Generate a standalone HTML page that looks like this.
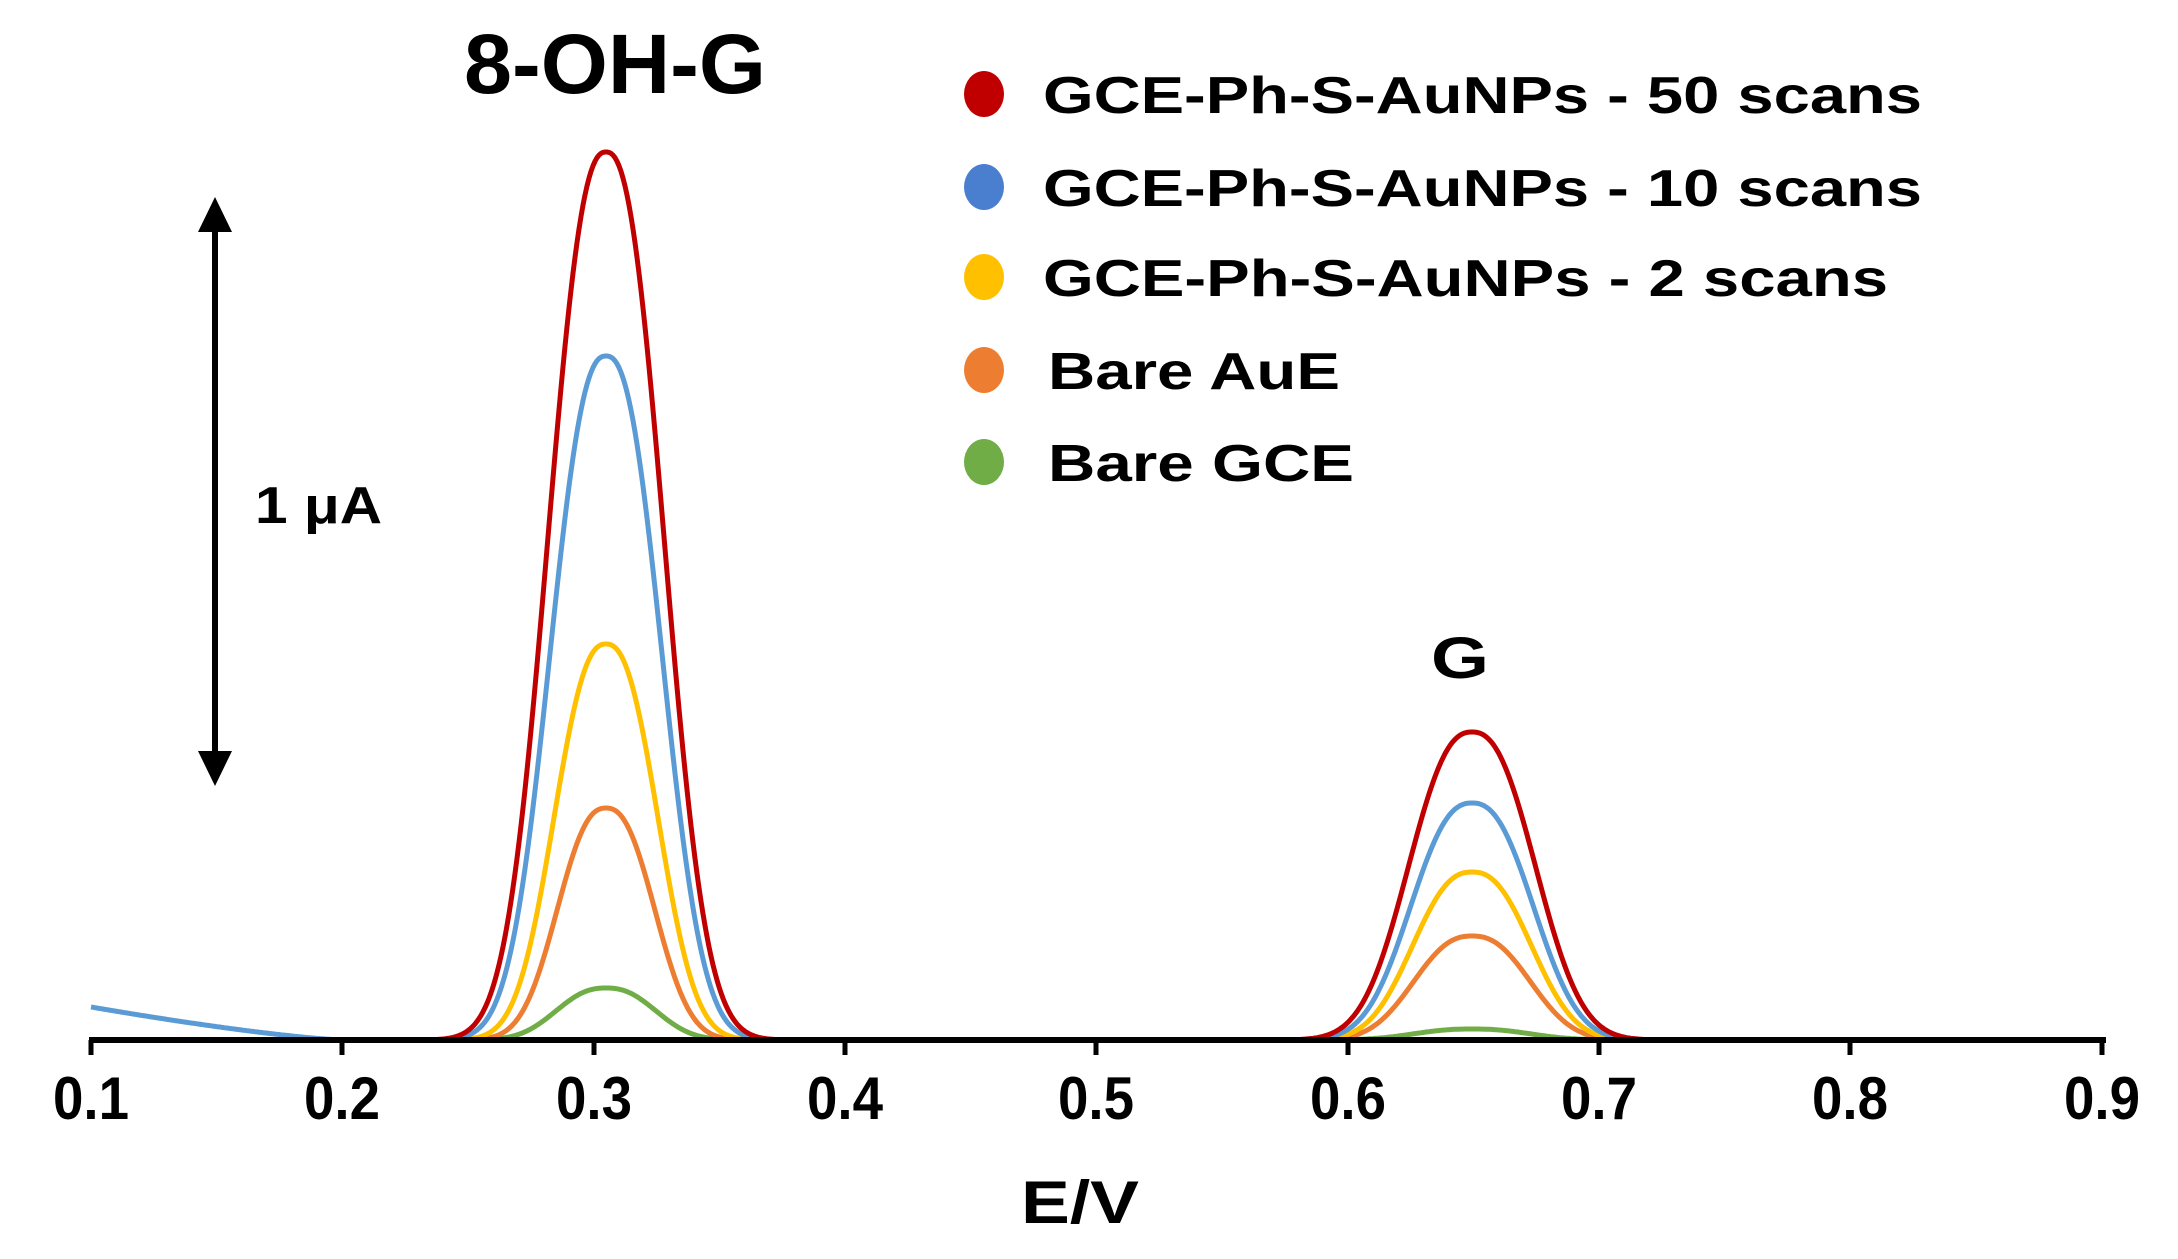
<!DOCTYPE html>
<html><head><meta charset="utf-8"><style>
html,body{margin:0;padding:0;background:#fff;}
svg{display:block;}
text{font-family:"Liberation Sans",sans-serif;font-weight:bold;fill:#000;}
</style></head><body>
<svg id="s" width="2178" height="1259" viewBox="0 0 2178 1259" xmlns="http://www.w3.org/2000/svg">
<rect width="2178" height="1259" fill="#fff"/>
<g id="curves" fill="none" stroke-width="5" stroke-linejoin="round"></g>
<line x1="89" y1="1040" x2="2106" y2="1040" stroke="#000" stroke-width="6"/>
<g stroke="#000" stroke-width="5">
<line x1="91" y1="1040" x2="91" y2="1055"/><line x1="342" y1="1040" x2="342" y2="1055"/>
<line x1="594" y1="1040" x2="594" y2="1055"/><line x1="845" y1="1040" x2="845" y2="1055"/>
<line x1="1096" y1="1040" x2="1096" y2="1055"/><line x1="1348" y1="1040" x2="1348" y2="1055"/>
<line x1="1599" y1="1040" x2="1599" y2="1055"/><line x1="1850" y1="1040" x2="1850" y2="1055"/>
<line x1="2102" y1="1040" x2="2102" y2="1055"/>
</g>
<g font-size="60" text-anchor="middle">
<text x="91" y="1119" textLength="76" lengthAdjust="spacingAndGlyphs">0.1</text>
<text x="342" y="1119" textLength="76" lengthAdjust="spacingAndGlyphs">0.2</text>
<text x="594" y="1119" textLength="76" lengthAdjust="spacingAndGlyphs">0.3</text>
<text x="845" y="1119" textLength="76" lengthAdjust="spacingAndGlyphs">0.4</text>
<text x="1096" y="1119" textLength="76" lengthAdjust="spacingAndGlyphs">0.5</text>
<text x="1348" y="1119" textLength="76" lengthAdjust="spacingAndGlyphs">0.6</text>
<text x="1599" y="1119" textLength="76" lengthAdjust="spacingAndGlyphs">0.7</text>
<text x="1850" y="1119" textLength="76" lengthAdjust="spacingAndGlyphs">0.8</text>
<text x="2102" y="1119" textLength="76" lengthAdjust="spacingAndGlyphs">0.9</text>
</g>
<text x="1021" y="1223" font-size="60" textLength="118" lengthAdjust="spacingAndGlyphs">E/V</text>
<line x1="215" y1="225" x2="215" y2="756" stroke="#000" stroke-width="6"/>
<polygon points="215,197 198,232 232,232" fill="#000"/>
<polygon points="215,786 198,751 232,751" fill="#000"/>
<text x="255" y="523" font-size="52" textLength="127" lengthAdjust="spacingAndGlyphs">1 μA</text>
<text x="464" y="93" font-size="84" textLength="302" lengthAdjust="spacingAndGlyphs">8-OH-G</text>
<text x="1431" y="678" font-size="58" textLength="58" lengthAdjust="spacingAndGlyphs">G</text>
<ellipse cx="984" cy="94" rx="20" ry="23" fill="#c00000"/>
<ellipse cx="984" cy="187" rx="20" ry="23" fill="#4a7fd0"/>
<ellipse cx="984" cy="277" rx="20" ry="23" fill="#ffc000"/>
<ellipse cx="984" cy="370" rx="20" ry="23" fill="#ed7d31"/>
<ellipse cx="984" cy="462" rx="20" ry="23" fill="#70ad47"/>
<g font-size="52">
<text x="1043" y="113" textLength="879" lengthAdjust="spacingAndGlyphs">GCE-Ph-S-AuNPs - 50 scans</text>
<text x="1043" y="206" textLength="879" lengthAdjust="spacingAndGlyphs">GCE-Ph-S-AuNPs - 10 scans</text>
<text x="1043" y="296" textLength="845" lengthAdjust="spacingAndGlyphs">GCE-Ph-S-AuNPs - 2 scans</text>
<text x="1048" y="389" textLength="292" lengthAdjust="spacingAndGlyphs">Bare AuE</text>
<text x="1048" y="481" textLength="306" lengthAdjust="spacingAndGlyphs">Bare GCE</text>
</g>
</svg>
<script>
(function(){
var g=document.getElementById('curves');
var base=1040;
var series=[
 {c:'#70ad47',a:[52,47,11,55]},
 {c:'#ed7d31',a:[232,46,104,55]},
 {c:'#ffc000',a:[396,49,168,56]},
 {c:'#5b9bd5',a:[684,53,237,58]},
 {c:'#c00000',a:[888,55,308,60]}
];
function pk(d,s){return Math.exp(-Math.pow(Math.abs(d)/s,2.4)/2);}
series.forEach(function(s){
  var d='';
  for(var x=91;x<=2104;x+=2){
    var y=base - s.a[0]*pk(x-606,s.a[1]) - s.a[2]*pk(x-1472,s.a[3]);
    if(s.c==='#5b9bd5' && x<342){var t=(342-x)/251; y-=33*Math.pow(t,1.3);}
    d+=(d?'L':'M')+x+' '+y.toFixed(1);
  }
  var p=document.createElementNS('http://www.w3.org/2000/svg','path');
  p.setAttribute('d',d);p.setAttribute('stroke',s.c);
  g.appendChild(p);
});
})();
</script>
</body></html>
